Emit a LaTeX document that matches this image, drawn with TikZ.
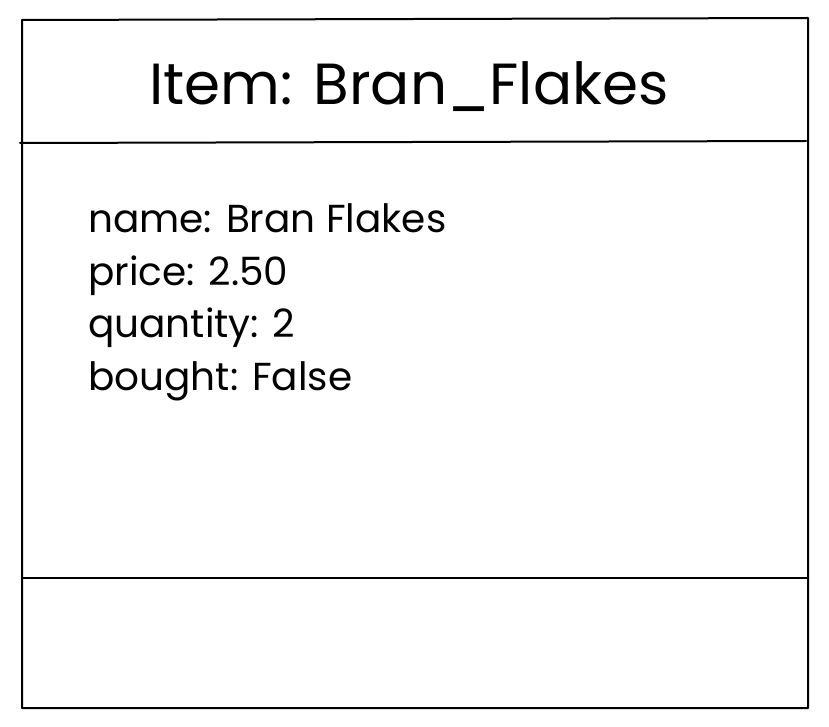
\documentclass[tikz,border=0pt]{standalone}
\usepackage{fontspec}
\setmainfont{Poppins}
\begin{document}
\begin{tikzpicture}[x=1pt,y=-1pt,
  boxline/.style={draw=black,line width=2pt,line cap=round,line join=round},
  titletext/.style={font=\fontsize{58}{66}\selectfont,inner sep=0pt,anchor=base},
  attrtext/.style={font=\fontsize{39}{52.5}\selectfont,inner sep=0pt,align=left,anchor=base west}]
\useasboundingbox (0,0) rectangle (829,727);
\coordinate (tl) at (22,20);
\coordinate (tr) at (808,18);
\coordinate (br) at (808,708);
\coordinate (bl) at (22,708);
\coordinate (l1) at (20,143);
\coordinate (r1) at (806,141);
\coordinate (l2) at (22,578);
\coordinate (r2) at (808,578);
\draw[boxline] (tl) -- (tr) -- (br) -- (bl) -- cycle;
\draw[boxline] (l1) -- (r1);
\draw[boxline] (l2) -- (r2);
\node[titletext] (title) at (409,105) {Item: Bran\_Flakes};
\node[attrtext] (attrs) at (88,390) {name: Bran Flakes\\price: 2.50\\quantity: 2\\bought: False};
\end{tikzpicture}
\end{document}
